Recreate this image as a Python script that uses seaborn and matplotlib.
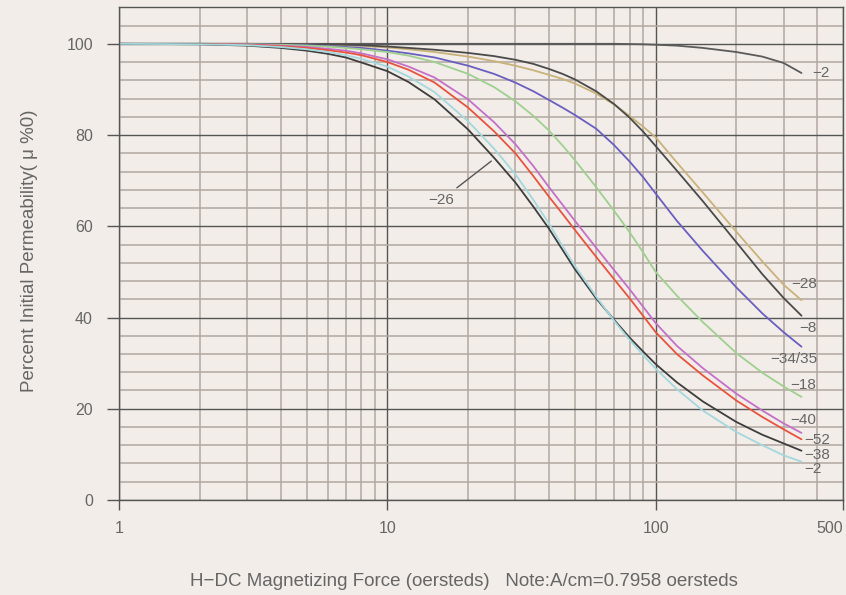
import numpy as np
import pandas as pd
import matplotlib
matplotlib.use("Agg")
import matplotlib.pyplot as plt
from matplotlib.ticker import FixedLocator, MultipleLocator, NullFormatter
import seaborn as sns

# H-DC magnetizing force (oersteds), shared by all curves
H = [1, 2, 3, 4, 5, 6, 7, 8, 10, 12, 15, 20, 25, 30, 35, 40, 45, 50,
     60, 70, 80, 90, 100, 120, 150, 200, 250, 300, 350]

# percent initial permeability
mix_2_top = [100, 100, 100, 100, 100, 100, 100, 100, 100, 100, 100, 100, 100, 100, 100, 100, 100, 100,
             100, 100, 99.95, 99.9, 99.8, 99.6, 99.1, 98.2, 97.2, 95.8, 93.6]
mix_28 = [100, 100, 100, 99.9, 99.85, 99.75, 99.65, 99.5, 99.2, 98.8, 98.2, 97.2, 96.2, 95.2, 94.2, 93.2, 92.3, 91.3,
          89.1, 86.7, 84.2, 81.8, 79.5, 74.0, 67.4, 58.8, 52.3, 47.2, 43.8]
mix_8 = [100, 100, 100, 99.95, 99.9, 99.85, 99.8, 99.7, 99.4, 99.1, 98.7, 98.0, 97.3, 96.5, 95.6, 94.5, 93.4, 92.2,
         89.6, 86.8, 83.8, 80.7, 77.6, 72.2, 65.5, 56.5, 49.5, 44.3, 40.4]
mix_34 = [100, 100, 99.9, 99.8, 99.7, 99.5, 99.3, 99.1, 98.5, 97.9, 97.0, 95.2, 93.4, 91.5, 89.6, 87.7, 86.0, 84.4,
          81.4, 77.8, 74.2, 70.7, 67.2, 61.2, 54.6, 46.6, 40.9, 36.8, 33.6]
mix_18 = [100, 100, 99.9, 99.8, 99.6, 99.4, 99.1, 98.8, 98.2, 97.4, 96.0, 93.4, 90.5, 87.4, 84.2, 81.0, 77.7, 74.5,
          68.6, 63.4, 58.7, 54.2, 50.0, 44.8, 39.0, 32.2, 27.9, 24.9, 22.6]
mix_40 = [100, 99.95, 99.85, 99.6, 99.3, 98.9, 98.5, 97.9, 96.6, 95.0, 92.6, 87.8, 82.8, 78.0, 73.2, 68.6, 64.7, 61.2,
          55.3, 50.4, 46.2, 42.3, 38.8, 33.8, 28.9, 23.3, 19.6, 16.8, 14.7]
mix_52 = [100, 99.95, 99.8, 99.5, 99.1, 98.6, 98.1, 97.5, 96.0, 94.3, 91.5, 86.0, 80.8, 76.0, 71.0, 66.5, 62.7, 59.2,
          53.3, 48.4, 44.2, 40.3, 36.8, 32.0, 27.3, 21.8, 18.2, 15.5, 13.3]
mix_38 = [100, 99.9, 99.6, 99.1, 98.5, 97.8, 97.0, 95.9, 94.0, 91.6, 87.8, 81.2, 75.0, 69.6, 64.3, 59.5, 54.8, 50.6,
          44.2, 39.5, 35.6, 32.5, 29.8, 25.8, 21.6, 17.1, 14.3, 12.4, 10.8]
mix_2 = [100, 99.9, 99.7, 99.3, 98.8, 98.2, 97.5, 96.7, 95.0, 92.8, 89.4, 83.0, 77.0, 71.4, 65.8, 60.6, 55.6, 51.3,
         44.6, 39.3, 35.1, 31.7, 28.8, 24.3, 19.6, 14.9, 12.0, 9.8, 8.4]

curve_ids = ["-2 top", "-28", "-8", "-34/35", "-18", "-40", "-52", "-38", "-2"]
curve_vals = [mix_2_top, mix_28, mix_8, mix_34, mix_18, mix_40, mix_52, mix_38, mix_2]
curve_colors = ["#5b5b5b", "#c9b27a", "#4a4a4a", "#6a5fc0", "#9fd08f",
                "#c46fc8", "#e8533f", "#3d3d3d", "#a3d8de"]

# end-of-curve labels
label_text = ["\u22122", "\u221228", "\u22128", "\u221234/35", "\u221218",
              "\u221240", "\u221252", "\u221238", "\u22122"]
label_x = [383, 321, 342, 268, 318, 318, 357, 357, 357]
label_y = [93.5, 47.3, 37.7, 31.0, 25.3, 17.5, 13.1, 9.8, 6.7]

df = pd.concat([pd.DataFrame({"H": H, "mu": v, "grade": c})
                for c, v in zip(curve_ids, curve_vals)], ignore_index=True)

sns.set_style("white")
plt.rcParams["font.family"] = ["Liberation Sans", "DejaVu Sans"]

bg = "#f2ede8"
txt = "#666666"
fig = plt.figure(figsize=(8.46, 5.95), dpi=100, facecolor=bg)
ax = fig.add_axes([0.141, 0.1597, 0.8555, 0.828], facecolor=bg)

ax.set_xscale("log")
ax.set_xlim(1, 500)
ax.set_ylim(0, 108)

# grid: light minor lines, darker major lines
minor_x = [m * d for d in (1, 10, 100) for m in range(2, 10) if m * d < 500]
ax.xaxis.set_minor_locator(FixedLocator(minor_x))
ax.xaxis.set_minor_formatter(NullFormatter())
ax.yaxis.set_minor_locator(MultipleLocator(4))
ax.grid(which="minor", color="#b3a7a1", lw=1.1)
ax.grid(which="major", color="#555555", lw=1.0)
ax.set_axisbelow(True)

sns.lineplot(data=df, x="H", y="mu", hue="grade", hue_order=curve_ids,
             palette=dict(zip(curve_ids, curve_colors)), legend=False,
             linewidth=1.3, ax=ax)

ax.set_xticks([1, 10, 100, 500])
ax.set_xticklabels(["1", "10", "100", "500"])
ax.get_xticklabels()[-1].set_ha("right")
ax.set_yticks([0, 20, 40, 60, 80, 100])
ax.tick_params(which="major", bottom=True, left=True, direction="out", width=1,
               color="#555555", labelcolor=txt, labelsize=11.5)
ax.tick_params(axis="x", which="major", length=7.5, pad=7.5)
ax.tick_params(axis="y", which="major", length=8.5, pad=10.5)
ax.tick_params(which="minor", length=0)
ax.set_xlabel("")
ax.set_ylabel("")
for s in ax.spines.values():
    s.set_color("#555555")
    s.set_linewidth(1.0)

for t, x, y in zip(label_text, label_x, label_y):
    ax.text(x, y, t, fontsize=11, color=txt, ha="left", va="center")

ax.annotate("\u221226", xy=(24.4, 74.3), xytext=(15.9, 65.8), fontsize=11, color=txt,
            ha="center", va="center",
            arrowprops=dict(arrowstyle="-", color="#555555", lw=1.0, shrinkA=2, shrinkB=0))

fig.text(30 / 846, 1 - 251 / 595, "Percent Initial Permeability( \u03bc %0)",
         rotation=90, ha="center", va="center", fontsize=13.5, color=txt)
fig.text(464 / 846, 1 - 581 / 595,
         "H\u2212DC Magnetizing Force (oersteds)   Note:A/cm=0.7958 oersteds",
         ha="center", va="center", fontsize=13.5, color=txt)

fig.savefig("out.png", dpi=100, facecolor=bg)
